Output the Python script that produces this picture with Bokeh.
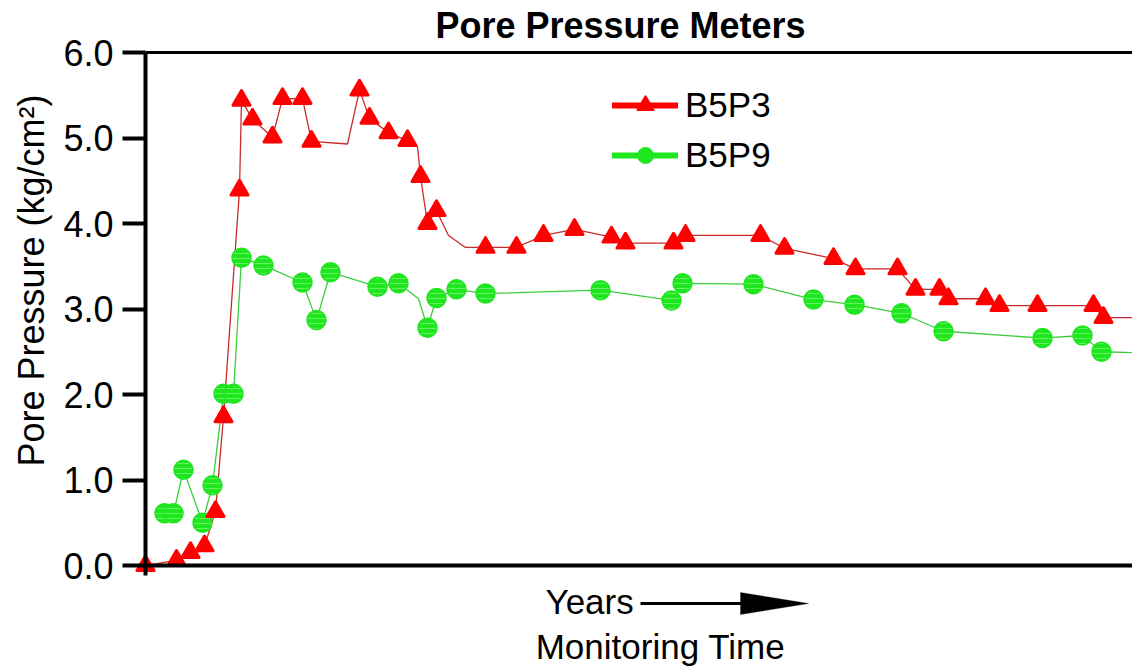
import math

from bokeh.plotting import figure
from bokeh.models import (Range1d, LinearAxis, FixedTicker, Label, Legend, LegendItem,
                          PolyAnnotation)
from bokeh.embed import file_html
from bokeh.resources import INLINE

# ---- texts ----
title_text = "Pore Pressure Meters"
y_label_text = "Pore Pressure (kg/cm²)"
x_label_upper = "Years"
x_label_lower = "Monitoring Time"

# ---- pressure axis ----
y_ticks = [0, 1, 2, 3, 4, 5, 6]
y_tick_labels = ["0.0", "1.0", "2.0", "3.0", "4.0", "5.0", "6.0"]
y_max = 6

# ---- monitoring time (arbitrary time units, no scale shown) ----
t_end = 98.7

# B5P3: time, pressure (kg/cm2), 1 = reading with marker, 0 = line vertex only
b5p3_t = [0.0, 3.1, 4.5, 5.9, 7.0, 7.8, 9.4, 9.6, 10.7, 12.7, 13.7, 15.7, 16.6, 20.2,
          21.4, 22.4, 24.3, 26.2, 27.2, 27.5, 28.2, 29.1, 30.3, 32.0, 34.0, 37.1,
          39.8, 42.9, 46.6, 48.0, 52.8, 54.0, 61.5, 63.9, 68.8, 71.0, 75.2, 77.0,
          79.4, 80.3, 84.0, 85.4, 89.2, 94.8, 95.8, 98.7]
b5p3_p = [0.00, 0.06, 0.15, 0.23, 0.63, 1.74, 4.39, 5.44, 5.22, 5.01, 5.46, 5.46, 4.96, 4.93,
          5.56, 5.23, 5.06, 4.97, 4.90, 4.55, 4.00, 4.15, 3.86, 3.72, 3.72, 3.72,
          3.86, 3.93, 3.84, 3.77, 3.77, 3.86, 3.86, 3.71, 3.59, 3.47, 3.47, 3.23,
          3.23, 3.12, 3.12, 3.04, 3.04, 3.04, 2.90, 2.90]
b5p3_marked = [1, 1, 1, 1, 1, 1, 1, 1, 1, 1, 1, 1, 1, 0,
               1, 1, 1, 1, 0, 1, 1, 1, 0, 0, 1, 1,
               1, 1, 1, 1, 1, 1, 1, 1, 1, 1, 1, 1,
               1, 1, 1, 1, 1, 1, 1, 0]

# B5P9
b5p9_t = [1.9, 2.8, 3.8, 5.7, 6.7, 7.8, 8.8, 9.6, 11.8, 15.7, 17.1, 18.5, 23.2, 25.3,
          27.3, 28.2, 29.1, 31.1, 34.0, 45.5, 52.6, 53.7, 60.8, 66.8, 70.9, 75.6,
          79.8, 89.7, 93.7, 95.6, 98.7]
b5p9_p = [0.61, 0.61, 1.12, 0.50, 0.94, 2.01, 2.01, 3.60, 3.51, 3.31, 2.87, 3.43, 3.26, 3.30,
          3.12, 2.78, 3.13, 3.23, 3.18, 3.22, 3.10, 3.30, 3.29, 3.11, 3.05, 2.95,
          2.74, 2.66, 2.69, 2.50, 2.49]
b5p9_marked = [1, 1, 1, 1, 1, 1, 1, 1, 1, 1, 1, 1, 1, 1,
               0, 1, 1, 1, 1, 1, 1, 1, 1, 1, 1, 1,
               1, 1, 1, 1, 0]

RED = "#ff0000"
RED_LINE = "#c92a2a"
GREEN = "#1fe61f"
GREEN_LINE = "#3ccc3c"
FONT = "Liberation Sans"

# page geometry (pixels): the plotting box sits inside a full-page frame
W, H = 1132, 670
BOX_LEFT, BOX_TOP, BOX_BOTTOM = 145, 52, 565
t_per_px = t_end / (W - BOX_LEFT)
p_per_px = y_max / (BOX_BOTTOM - BOX_TOP)


def marked(ts, ps, flags):
    pts = [(t, v) for t, v, f in zip(ts, ps, flags) if f]
    return [a for a, _ in pts], [b for _, b in pts]


p = figure(width=W, height=H,
           x_range=Range1d(-BOX_LEFT * t_per_px, t_end),
           y_range=Range1d(-(H - BOX_BOTTOM) * p_per_px, y_max + BOX_TOP * p_per_px),
           output_backend="svg", toolbar_location=None,
           x_axis_location=None, y_axis_location=None,
           min_border=0, min_border_left=0, min_border_right=0,
           min_border_top=0, min_border_bottom=0)
p.background_fill_color = "white"
p.border_fill_color = "white"
p.outline_line_color = None
p.grid.visible = False

# left (pressure) axis, pinned at time 0
ya = LinearAxis(fixed_location=0, bounds=(0, y_max), ticker=FixedTicker(ticks=y_ticks))
ya.major_label_overrides = {t: s for t, s in zip(y_ticks, y_tick_labels)}
ya.major_label_text_font = FONT
ya.major_label_text_font_size = "36px"
ya.major_label_text_color = "black"
ya.major_label_standoff = 9
ya.major_tick_out = 23
ya.major_tick_in = 0
ya.minor_tick_out = 0
ya.minor_tick_in = 0
ya.axis_line_width = 4
ya.major_tick_line_width = 4
p.add_layout(ya, "left")

# bottom (time) axis: a single tick at the origin, no numbers
xa = LinearAxis(fixed_location=0, bounds=(0, t_end), ticker=FixedTicker(ticks=[0]))
xa.major_label_overrides = {0: ""}
xa.major_label_text_font_size = "0px"
xa.major_tick_out = 10
xa.major_tick_in = 0
xa.minor_tick_out = 0
xa.minor_tick_in = 0
xa.axis_line_width = 4
xa.major_tick_line_width = 4
p.add_layout(xa, "below")

# top border line at the top of the pressure scale
top = LinearAxis(fixed_location=y_max, bounds=(0, t_end), ticker=FixedTicker(ticks=[]),
                 axis_line_width=3, major_tick_out=0, major_tick_in=0,
                 minor_tick_out=0, minor_tick_in=0, major_label_text_font_size="0px")
p.add_layout(top, "above")

# series lines
p.line(b5p3_t, b5p3_p, line_color=RED_LINE, line_width=1.3)
p.line(b5p9_t, b5p9_p, line_color=GREEN_LINE, line_width=1.3)

# series markers
gx, gy = marked(b5p9_t, b5p9_p, b5p9_marked)
p.scatter(gx, gy, marker="circle", size=19, fill_color=GREEN, line_color=GREEN,
          line_width=1.5, hatch_pattern="horizontal_line", hatch_color="#b8ffb8",
          hatch_alpha=0.45, hatch_scale=5, hatch_weight=1)
rx, ry = marked(b5p3_t, b5p3_p, b5p3_marked)
p.scatter(rx, ry, marker="triangle", size=17, fill_color=RED, line_color=RED,
          line_width=3, line_join="round")

# legend samples (single point kept off the visible ranges)
off = [-1000]
lr_line = p.line(x=off, y=off, line_color=RED, line_width=6, line_cap="round")
lr_mark = p.scatter(x=off, y=off, marker="triangle", size=14, fill_color=RED,
                    line_color=RED, line_width=2, line_join="round")
lg_line = p.line(x=off, y=off, line_color=GREEN, line_width=6, line_cap="round")
lg_mark = p.scatter(x=off, y=off, marker="circle", size=16, fill_color=GREEN,
                    line_color=GREEN)
legend = Legend(items=[LegendItem(label="B5P3", renderers=[lr_line, lr_mark]),
                       LegendItem(label="B5P9", renderers=[lg_line, lg_mark])],
                location=(612, 495), glyph_width=66, glyph_height=40,
                label_height=40, label_standoff=7, spacing=10, padding=0, margin=0,
                border_line_color=None, background_fill_alpha=0,
                label_text_font=FONT, label_text_font_size="35px",
                label_text_color="black", label_text_baseline="middle")
p.add_layout(legend)

# title and axis titles (screen units from the page's lower-left corner)
p.add_layout(Label(x=620, y=H - 25, x_units="screen", y_units="screen", text=title_text,
                   text_font=FONT, text_font_size="36px", text_font_style="bold",
                   text_align="center", text_baseline="alphabetic", text_color="black"))
p.add_layout(Label(x=31, y=H - 280, x_units="screen", y_units="screen", text=y_label_text,
                   text_font=FONT, text_font_size="36px", angle=math.pi / 2,
                   text_align="center", text_baseline="middle", text_color="black"))
p.add_layout(Label(x=545, y=H - 601, x_units="screen", y_units="screen", text=x_label_upper,
                   text_font=FONT, text_font_size="35px", text_color="black",
                   text_align="left", text_baseline="alphabetic"))
p.add_layout(Label(x=660, y=H - 646, x_units="screen", y_units="screen", text=x_label_lower,
                   text_font=FONT, text_font_size="35px", text_color="black",
                   text_align="center", text_baseline="alphabetic"))

# time-direction arrow next to "Years"
p.add_layout(PolyAnnotation(xs=[640, 745, 745, 640], ys=[68.5, 68.5, 65.5, 65.5],
                            xs_units="screen", ys_units="screen",
                            fill_color="black", fill_alpha=1, line_color=None))
p.add_layout(PolyAnnotation(xs=[740, 808, 740], ys=[78, 67, 56],
                            xs_units="screen", ys_units="screen",
                            fill_color="black", fill_alpha=1, line_color="black",
                            line_width=1))

open("out.html", "w").write(file_html(p, INLINE))
